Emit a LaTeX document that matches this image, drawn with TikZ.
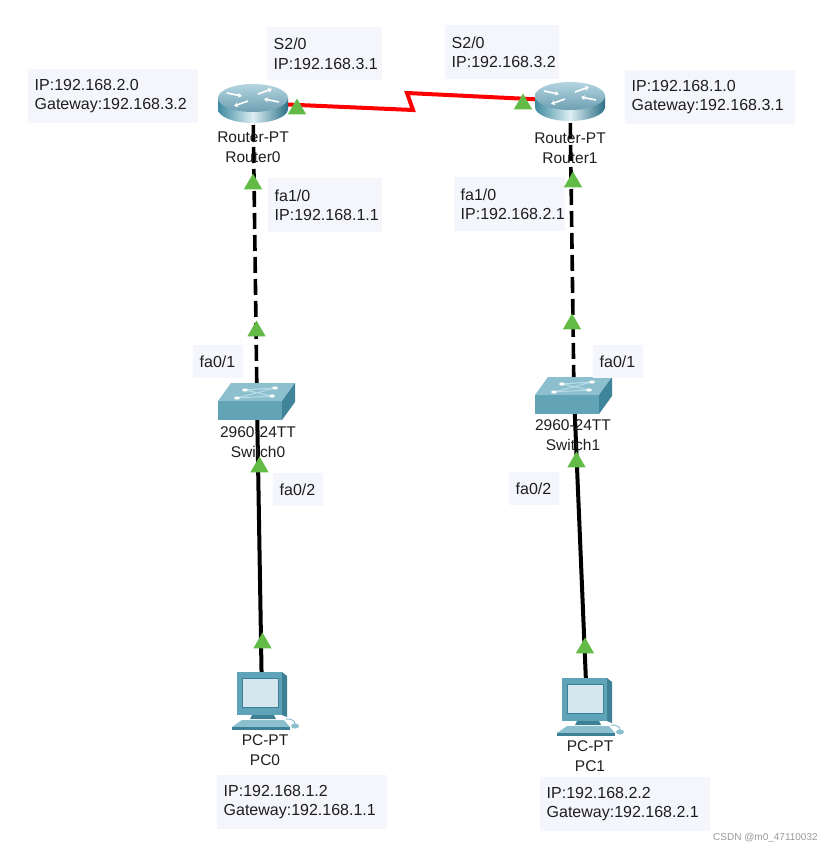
\documentclass[tikz,border=0pt]{standalone}
\usepackage{fontspec}
\setmainfont{Liberation Sans}
\usetikzlibrary{shapes.geometric,arrows.meta}
\definecolor{boxbg}{HTML}{F4F6FC}
\definecolor{ptgreen}{HTML}{62BB46}
\definecolor{txt}{HTML}{1E1E1E}
\definecolor{routerL}{HTML}{3F8AA0}
\definecolor{routerM}{HTML}{DDEFF4}
\definecolor{routerR}{HTML}{2C6F86}
\definecolor{routerT1}{HTML}{B3D5E0}
\definecolor{routerT2}{HTML}{6E9FB2}
\definecolor{swTop}{HTML}{8DC0CF}
\definecolor{swFront}{HTML}{62A4B6}
\definecolor{swRight}{HTML}{3F8499}
\definecolor{swLine}{HTML}{B9DCE6}
\definecolor{pcFrame}{HTML}{5FA3B8}
\definecolor{pcSide}{HTML}{3E8096}
\definecolor{pcScreen}{HTML}{D4E7EF}
\definecolor{pcKey}{HTML}{8CC0CF}
\definecolor{wmgray}{HTML}{9A9A9A}
\begin{document}
\begin{tikzpicture}[x=1pt,y=-1pt,
  lbl/.style={font=\fontsize{15.5}{20}\selectfont, text=txt},
  infobox/.style={font=\fontsize{16}{19.5}\selectfont, text=txt, fill=boxbg, anchor=north west, align=left, inner xsep=6.5pt, inner ysep=0pt},
  devlabel/.style={lbl, align=center, inner sep=0pt},
  tri/.style={regular polygon, regular polygon sides=3, fill=ptgreen, minimum size=21pt, inner sep=0pt},
  serial/.style={line width=4pt, red, line join=miter},
  ethdash/.style={line width=3.6pt, black, dash pattern=on 16pt off 6pt},
  eth/.style={line width=4pt, black},
  rarrow/.style={white, line width=1.6pt, -{Stealth[length=4pt,width=5pt]}},
  router/.pic={
    \path[left color=routerL, right color=routerR, middle color=routerM]
      (-35,-5) -- (-35,6) arc[start angle=180,end angle=360,x radius=35pt,y radius=14pt] -- (35,-5) -- cycle;
    \path[top color=routerT1, bottom color=routerT2] (0,-5) ellipse[x radius=35pt, y radius=14pt];
    \draw[rarrow] (-26,-10) -- (-11,-7);
    \draw[rarrow] (26,-1) -- (11,-4);
    \draw[rarrow] (5,-9) -- (19,-14);
    \draw[rarrow] (-5,-2) -- (-19,3);
  },
  switchicon/.pic={
    \fill[swTop] (-39,0) -- (25,0) -- (38,-18) -- (-26,-18) -- cycle;
    \fill[swFront] (-39,0) rectangle (25,19);
    \fill[swRight] (25,0) -- (38,-18) -- (38,1) -- (25,19) -- cycle;
    \draw[swLine, line width=1pt] (-12,-11) -- (18,-13) (-20,-3) -- (15,-5) (-12,-11) -- (15,-5) (18,-13) -- (-20,-3);
    \fill[white] (-12,-11) ellipse[x radius=2.8pt, y radius=1.6pt]
                 (18,-13) ellipse[x radius=2.8pt, y radius=1.6pt]
                 (-20,-3) ellipse[x radius=2.8pt, y radius=1.6pt]
                 (15,-5) ellipse[x radius=2.8pt, y radius=1.6pt];
  },
  pcicon/.pic={
    \fill[pcSide] (20,-28) -- (25,-24) -- (25,17) -- (20,15) -- cycle;
    \fill[pcFrame] (-25,-28) rectangle (20,15);
    \filldraw[fill=pcScreen, draw=pcSide, line width=0.8pt] (-20,-22) rectangle (16,7);
    \fill[pcSide] (-10,15) -- (12,15) -- (14,19) -- (-12,19) -- cycle;
    \fill[pcKey] (-20,20) -- (22,20) -- (28,27) -- (-30,27) -- cycle;
    \fill[pcSide] (-30,27) rectangle (28,30);
    \draw[pcKey, line width=1pt] (33,24) .. controls (33,20) and (29,19) .. (24,19);
    \fill[pcKey] (33,26) ellipse[x radius=4pt, y radius=2.6pt];
  }]
\useasboundingbox (0,0) rectangle (831,852);
\fill[white] (0,0) rectangle (831,852);

% device centres
\coordinate (r0) at (253,103);
\coordinate (r1) at (570,101);
\coordinate (s0) at (257,401);
\coordinate (s1) at (574,395);
\coordinate (pc0) at (262,700);
\coordinate (pc1) at (587,706);
\coordinate (z1) at (413,110);
\coordinate (z2) at (407,93);

% links
\draw[serial] (r0) -- (z1) -- (z2) -- (r1);
\draw[ethdash] (r0) -- (s0);
\draw[ethdash] (r1) -- (s1);
\draw[eth] (s0) -- (pc0);
\draw[eth] (s1) -- (pc1);

% icons
\pic at (r0) {router};
\pic at (r1) {router};
\pic at (s0) {switchicon};
\pic at (s1) {switchicon};
\pic at (pc0) {pcicon};
\pic at (pc1) {pcicon};

% device labels
\node[devlabel] (r0lab) at (253,147) {Router-PT\\Router0};
\node[devlabel] (r1lab) at (570,148) {Router-PT\\Router1};
\node[devlabel] (s0lab) at (258,442.5) {2960-24TT\\Switch0};
\node[devlabel] (s1lab) at (573,435.5) {2960-24TT\\Switch1};
\node[devlabel] (pc0lab) at (265,750) {PC-PT\\PC0};
\node[devlabel] (pc1lab) at (590,756.5) {PC-PT\\PC1};

% info boxes
\node[infobox, text width=102pt, minimum height=53pt] (ib1) at (267,27) {S2/0\\IP:192.168.3.1};
\node[infobox, text width=101pt, minimum height=54pt] (ib2) at (445,25) {S2/0\\IP:192.168.3.2};
\node[infobox, text width=157pt, minimum height=54pt] (ib3) at (28,69) {IP:192.168.2.0\\Gateway:192.168.3.2};
\node[infobox, text width=157pt, minimum height=54pt] (ib4) at (625,70) {IP:192.168.1.0\\Gateway:192.168.3.1};
\node[infobox, text width=101pt, minimum height=54pt] (ib5) at (268,178) {fa1/0\\IP:192.168.1.1};
\node[infobox, text width=98pt, minimum height=54pt] (ib6) at (454,177) {fa1/0\\IP:192.168.2.1};
\node[infobox, text width=37pt, minimum height=33pt] (ib7) at (193,345) {fa0/1};
\node[infobox, text width=37pt, minimum height=33pt] (ib8) at (593,345) {fa0/1};
\node[infobox, text width=37pt, minimum height=33pt] (ib9) at (273,473) {fa0/2};
\node[infobox, text width=37pt, minimum height=33pt] (ib10) at (509,472) {fa0/2};
\node[infobox, text width=157pt, minimum height=54pt] (ib11) at (217,775) {IP:192.168.1.2\\Gateway:192.168.1.1};
\node[infobox, text width=157pt, minimum height=54pt] (ib12) at (540,777) {IP:192.168.2.2\\Gateway:192.168.2.1};

% link-state triangles
\node[tri] (t1) at (297,109) {};
\node[tri] (t2) at (523,104) {};
\node[tri] (t3) at (253,184) {};
\node[tri] (t4) at (256.5,331) {};
\node[tri] (t5) at (573,182) {};
\node[tri] (t6) at (572,324) {};
\node[tri] (t7) at (259.5,467) {};
\node[tri] (t8) at (262.5,643) {};
\node[tri] (t9) at (576.5,462) {};
\node[tri] (t10) at (585,648) {};

% watermark
\node[anchor=west, inner sep=0pt, text=wmgray, font=\fontsize{10}{12}\selectfont] (wm) at (713,838) {CSDN @m0\_47110032};
\end{tikzpicture}
\end{document}
